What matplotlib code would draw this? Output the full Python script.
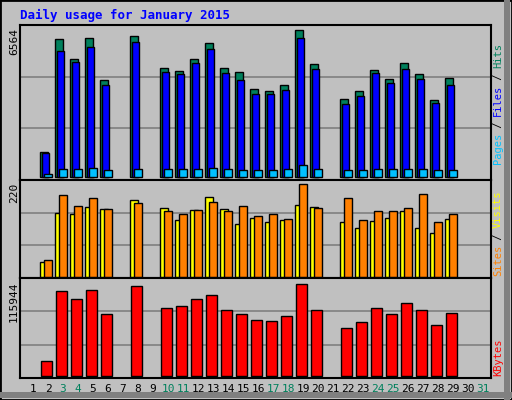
import matplotlib
matplotlib.use("Agg")
import matplotlib.pyplot as plt
from matplotlib.patches import Rectangle

days = list(range(1, 32))
weekend = [3, 4, 10, 11, 17, 18, 24, 25, 31]
active = [2, 3, 4, 5, 6, 8, 10, 11, 12, 13, 14, 15, 16, 17, 18, 19, 20, 22, 23, 24, 25, 26, 27, 28, 29]
hits = [1116, 6160, 5270, 6206, 4330, 6296, 4867, 4733, 5270, 5983, 4867, 4688, 3929, 3840, 4108, 6564, 5045, 3483, 3840, 4778, 4376, 5090, 4600, 3438, 4420]
files = [1070, 5625, 5135, 5805, 4108, 6028, 4688, 4600, 5090, 5715, 4644, 4330, 3706, 3706, 3885, 6206, 4822, 3260, 3617, 4644, 4197, 4822, 4376, 3304, 4108]
pages = [134, 357, 357, 400, 312, 357, 357, 357, 357, 400, 357, 312, 312, 330, 357, 536, 357, 312, 330, 357, 357, 357, 357, 312, 330]
visits = [36, 152, 150, 166, 162, 183, 164, 136, 159, 190, 162, 126, 140, 131, 136, 171, 166, 129, 115, 133, 140, 155, 115, 105, 138]
sites = [41, 195, 169, 188, 162, 176, 157, 150, 159, 178, 155, 169, 145, 148, 138, 220, 164, 188, 136, 155, 157, 164, 197, 129, 150]
kbytes = [19430, 107060, 96900, 108330, 77850, 113410, 85470, 88010, 96900, 101980, 82930, 77850, 70230, 68960, 75310, 115944, 82930, 60070, 67690, 85470, 77850, 91820, 82930, 63880, 79120]

W, H = 512, 400
fig = plt.figure(figsize=(5.12, 4.0), dpi=100)
fig.patch.set_facecolor("#c0c0c0")
mono = "DejaVu Sans Mono"

# outer border
fig.add_artist(Rectangle((0, 0), 1, 1, transform=fig.transFigure, fill=False, ec="black", lw=2))
fig.add_artist(Rectangle((504/W, 0), 6/W, 1, transform=fig.transFigure, fc="#808080", ec="none"))
fig.add_artist(Rectangle((0, 2/H), 1, 6/H, transform=fig.transFigure, fc="#808080", ec="none"))

def px_axes(top, bottom):
    return fig.add_axes([20/W, 1-bottom/H, 471/W, (bottom-top)/H])

xl = (0.133, 31.53)
u = 1/15.0
def style(ax, ylim):
    ax.set_facecolor("#c0c0c0")
    ax.set_xlim(*xl)
    ax.set_ylim(*ylim)
    ax.set_xticks([]); ax.set_yticks([])
    for s in ax.spines.values():
        s.set_linewidth(1.5); s.set_color("black")
    for f in (1/3, 2/3):
        ax.axhline(ylim[0] + f*(ylim[1]-ylim[0]), color="#808080", lw=1.2, zorder=0)

kw = dict(align="edge", edgecolor="black", linewidth=1, zorder=3)
ax1 = px_axes(25, 180)
style(ax1, (-134, 6783))
ax1.bar([d-8*u for d in active], hits, width=8*u, color="#00805c", **kw)
ax1.bar([d-6*u for d in active], files, width=7*u, color="#0000ff", **kw)
ax1.bar([d-4*u for d in active], pages, width=8*u, color="#00c0ff", **kw)

ax2 = px_axes(180, 278)
style(ax2, (-2.4, 229.5))
ax2.bar([d-8*u for d in active], visits, width=8*u, color="#ffff00", **kw)
ax2.bar([d-4*u for d in active], sites, width=8*u, color="#ff8000", **kw)

ax3 = px_axes(278, 378)
style(ax3, (-2540, 115944+6*1270))
ax3.bar([d-7*u for d in active], kbytes, width=11*u, color="#ff0000", **kw)

def ft(x, y, s, **k):
    fig.text(x/W, 1-y/H, s, family=mono, **k)

ft(20, 15, "Daily usage for January 2015", color="#0000ff", fontsize=9, fontweight="bold", va="center")
ft(14, 28, "6564", rotation=90, ha="center", va="top", fontsize=8)
ft(14, 183, "220", rotation=90, ha="center", va="top", fontsize=8)
ft(14, 281, "115944", rotation=90, ha="center", va="top", fontsize=8)

for d in days:
    ft(18+15*d, 389, str(d), ha="center", va="center", fontsize=8,
       color="#00805c" if d in weekend else "black")

# right labels, rotated (read bottom to top)
def rlabel(parts, ybottom):
    y = ybottom
    for s, c in parts:
        ft(498, y, s, rotation=90, ha="center", va="bottom", fontsize=7.5, color=c)
        y -= len(s)*6.0
rlabel([("Pages", "#00c0ff"), (" / ", "black"), ("Files", "#0000ff"), (" / ", "black"), ("Hits", "#00805c")], 164)
rlabel([("Sites", "#ff8000"), (" / ", "black"), ("Visits", "#ffff00")], 276)
rlabel([("KBytes", "#ff0000")], 376)

fig.savefig("out.png", dpi=100, facecolor=fig.get_facecolor())
